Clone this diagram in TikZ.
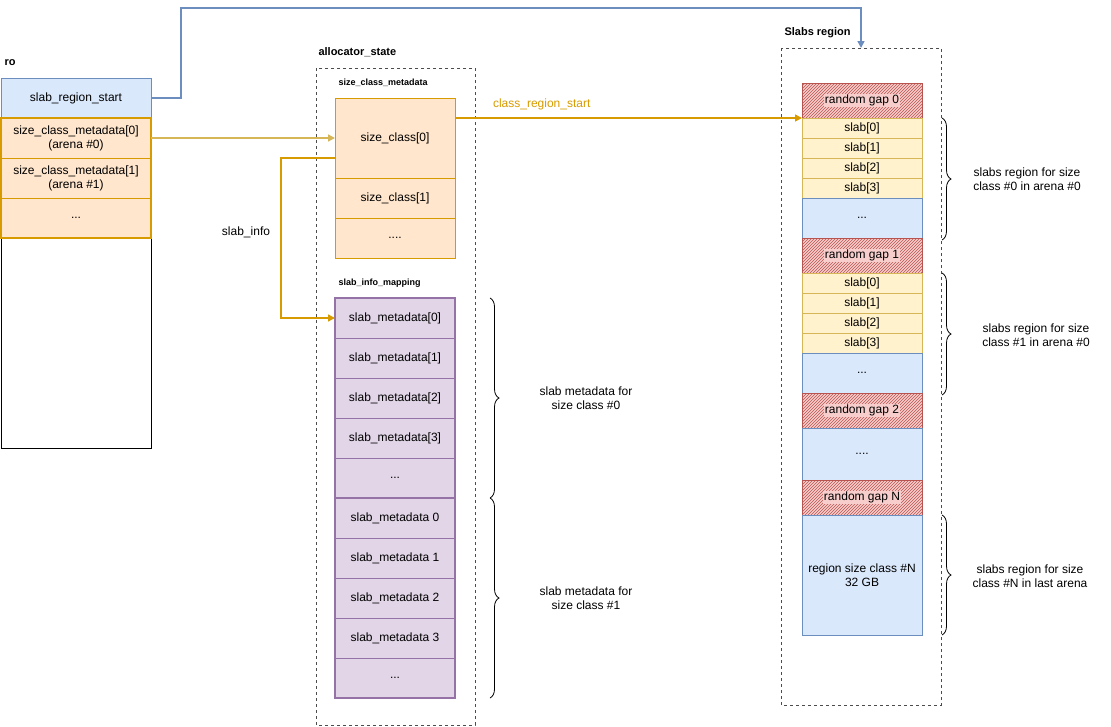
\documentclass[tikz,border=0pt]{standalone}
\usepackage{fontspec}
\setmainfont{Liberation Sans}
\usetikzlibrary{patterns,decorations.pathreplacing,arrows.meta}
\definecolor{bfill}{HTML}{DAE8FC}\definecolor{bline}{HTML}{6C8EBF}
\definecolor{ofill}{HTML}{FFE6CC}\definecolor{oline}{HTML}{D79B00}
\definecolor{pfill}{HTML}{E1D5E7}\definecolor{pline}{HTML}{9673A6}
\definecolor{yfill}{HTML}{FFF2CC}\definecolor{yline}{HTML}{D6B656}
\definecolor{rfill}{HTML}{F8CECC}\definecolor{rline}{HTML}{B85450}
\begin{document}
\begin{tikzpicture}[x=1pt,y=-1pt,
  every node/.style={font=\fontsize{12}{14}\selectfont,align=center},
  cell/.style={draw=#1,line width=0.8pt},
  lbl/.style={font=\fontsize{11}{13}\selectfont\bfseries,anchor=west},
  slbl/.style={font=\fontsize{9}{11}\selectfont\bfseries,anchor=west},
  dbox/.style={draw=black!70,dashed,line width=0.6pt},
  brc/.style={decorate,decoration={brace,amplitude=9pt},line width=0.8pt},
  arr/.style={-{Triangle[length=7pt,width=7pt]},line width=1.5pt}]
\useasboundingbox (0,0) rectangle (1111,726);
% ro
\node[lbl] (rol) at (1,63) {ro};
\draw[line width=0.8pt] (1,78) rectangle (151,448);
\draw[cell=bline,fill=bfill] (1,78) rectangle (151,118);
\node (srs) at (76,98) {slab\_region\_start};
\foreach \y/\t in {118/{size\_class\_metadata[0]\\(arena \#0)},158/{size\_class\_metadata[1]\\(arena \#1)},198/{{...}}}{
  \draw[cell=oline,fill=ofill] (1,\y) rectangle (151,\y+40);
  \node at (76,\y+20) {\t};}
\draw[oline,line width=2pt] (1,118) rectangle (151,238);
\coordinate (scm0) at (151,138);
\coordinate (srsE) at (151,98);
% allocator state
\node[lbl] (asl) at (315,52) {allocator\_state};
\draw[dbox] (316,68) rectangle (475,725);
\node[slbl] at (335,83) {size\_class\_metadata};
\draw[cell=oline,fill=ofill] (335,98) rectangle (455,178); \node (sc0) at (395,138) {size\_class[0]};
\draw[cell=oline,fill=ofill] (335,178) rectangle (455,218); \node at (395,198) {size\_class[1]};
\draw[cell=oline,fill=ofill] (335,218) rectangle (455,258); \node at (395,238) {....};
\node[slbl] at (335,283) {slab\_info\_mapping};
\foreach \i/\t in {0/{slab\_metadata[0]},1/{slab\_metadata[1]},2/{slab\_metadata[2]},3/{slab\_metadata[3]},4/{{...}},5/{slab\_metadata 0},6/{slab\_metadata 1},7/{slab\_metadata 2},8/{slab\_metadata 3},9/{{...}}}{
  \draw[cell=pline,fill=pfill] (335,298+40*\i) rectangle (455,338+40*\i);
  \node at (395,318+40*\i) {\t};}
\draw[pline,line width=1.6pt] (335,298) rectangle (455,498);
\draw[pline,line width=1.6pt] (335,498) rectangle (455,698);
\coordinate (sm0) at (335,318);
\draw[brc] (490,298) -- (490,498);
\draw[brc] (490,498) -- (490,698);
\node at (586,398) {slab metadata for\\size class \#0};
\node at (586,598) {slab metadata for\\size class \#1};
% slabs region
\node[lbl] (srl) at (781,33) {Slabs region};
\draw[dbox] (781,48) rectangle (941,705);
\coordinate (srtop) at (861,48);
\newcommand\gapcell[3]{\draw[cell=rline,fill=rfill] (802,#1) rectangle (922,#2);
  \fill[pattern={north east lines},pattern color=rline] (802,#1) rectangle (922,#2);
  \draw[rline,line width=0.8pt] (802,#1) rectangle (922,#2);
  \node[fill=rfill,inner sep=1pt] at (862,#1/2+#2/2) {#3};}
\newcommand\ycell[3]{\draw[cell=yline,fill=yfill] (802,#1) rectangle (922,#2); \node at (862,#1/2+#2/2) {#3};}
\newcommand\bcell[3]{\draw[cell=bline,fill=bfill] (802,#1) rectangle (922,#2); \node at (862,#1/2+#2/2) {#3};}
\gapcell{83}{118}{random gap 0}
\ycell{118}{138}{slab[0]}\ycell{138}{158}{slab[1]}\ycell{158}{178}{slab[2]}\ycell{178}{198}{slab[3]}
\bcell{198}{238}{...}
\gapcell{238}{273}{random gap 1}
\ycell{273}{293}{slab[0]}\ycell{293}{313}{slab[1]}\ycell{313}{333}{slab[2]}\ycell{333}{353}{slab[3]}
\bcell{353}{393}{...}
\gapcell{393}{428}{random gap 2}
\bcell{428}{480}{....}
\gapcell{480}{515}{random gap N}
\bcell{515}{635}{region size class \#N\\32 GB}
\coordinate (rg0) at (802,118);
\draw[brc] (942,118) -- (942,240);
\draw[brc] (942,273) -- (942,395);
\draw[brc] (942,515) -- (942,635);
\node at (1027,179) {slabs region for size\\class \#0 in arena \#0};
\node at (1036,335) {slabs region for size\\class \#1 in arena \#0};
\node at (1030,576) {slabs region for size\\class \#N in last arena};
% arrows
\draw[arr,color=bline] (srsE) -- (181,98) -- (181,8) -- (861,8) -- (srtop);
\draw[arr,color=yline] (scm0) -- (335,138);
\draw[arr,color=oline] (455,118) -- node[above=4pt,pos=0.25] {class\_region\_start} (rg0);
\draw[arr,color=oline] (335,158) -- (281,158) -- (281,318) -- (sm0);
\node at (246,232) {slab\_info};
\end{tikzpicture}
\end{document}
